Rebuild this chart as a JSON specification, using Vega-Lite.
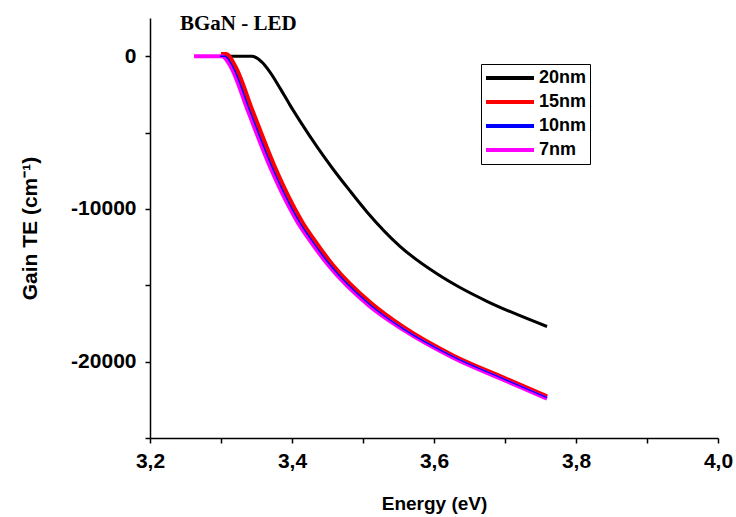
{
  "$schema": "https://vega.github.io/schema/vega-lite/v6.json",
  "width": 568,
  "height": 420,
  "autosize": "none",
  "padding": {"left": 150, "top": 18, "right": 18, "bottom": 79},
  "background": "white",
  "title": {
    "text": "BGaN - LED",
    "anchor": "start",
    "frame": "group",
    "offset": 0,
    "dx": 30,
    "dy": 33,
    "baseline": "alphabetic",
    "font": "Liberation Serif",
    "fontSize": 21,
    "fontWeight": "bold",
    "color": "black"
  },
  "config": {
    "view": {"stroke": null},
    "axis": {
      "grid": false,
      "domainColor": "black",
      "domainWidth": 1.5,
      "tickColor": "black",
      "tickWidth": 1.5,
      "tickSize": 5,
      "labelFont": "Liberation Sans",
      "labelFontWeight": "bold",
      "labelFontSize": 21,
      "labelColor": "black",
      "titleFont": "Liberation Sans",
      "titleFontWeight": "bold",
      "titleColor": "black"
    },
    "legend": {
      "orient": "none",
      "legendX": 331,
      "legendY": 46,
      "strokeColor": "black",
      "padding": 3,
      "symbolType": "stroke",
      "symbolSize": 2304,
      "symbolStrokeWidth": 4,
      "clipHeight": 22,
      "rowPadding": 2,
      "labelFont": "Liberation Sans",
      "labelFontWeight": "bold",
      "labelFontSize": 18,
      "labelColor": "black",
      "labelOffset": 3
    }
  },
  "data": {
    "values": [
      {"E": 3.3014, "G": 0, "s": "20nm"},
      {"E": 3.3437, "G": 0, "s": "20nm"},
      {"E": 3.3577, "G": -392, "s": "20nm"},
      {"E": 3.369, "G": -1046, "s": "20nm"},
      {"E": 3.3831, "G": -2092, "s": "20nm"},
      {"E": 3.3972, "G": -3203, "s": "20nm"},
      {"E": 3.4113, "G": -4249, "s": "20nm"},
      {"E": 3.4366, "G": -6020, "s": "20nm"},
      {"E": 3.4577, "G": -7386, "s": "20nm"},
      {"E": 3.4817, "G": -8824, "s": "20nm"},
      {"E": 3.5056, "G": -10196, "s": "20nm"},
      {"E": 3.5521, "G": -12450, "s": "20nm"},
      {"E": 3.6042, "G": -14250, "s": "20nm"},
      {"E": 3.6366, "G": -15150, "s": "20nm"},
      {"E": 3.6746, "G": -16050, "s": "20nm"},
      {"E": 3.7592, "G": -17700, "s": "20nm"},

      {"E": 3.300, "G": 130, "s": "15nm"},
      {"E": 3.307, "G": 130, "s": "15nm"},
      {"E": 3.3204, "G": -719, "s": "15nm"},
      {"E": 3.3443, "G": -3595, "s": "15nm"},
      {"E": 3.3767, "G": -7386, "s": "15nm"},
      {"E": 3.4007, "G": -9738, "s": "15nm"},
      {"E": 3.4148, "G": -10915, "s": "15nm"},
      {"E": 3.4289, "G": -11895, "s": "15nm"},
      {"E": 3.4570, "G": -13660, "s": "15nm"},
      {"E": 3.5120, "G": -16210, "s": "15nm"},
      {"E": 3.5577, "G": -17778, "s": "15nm"},
      {"E": 3.6268, "G": -19608, "s": "15nm"},
      {"E": 3.6972, "G": -21046, "s": "15nm"},
      {"E": 3.7592, "G": -22288, "s": "15nm"},

      {"E": 3.262, "G": 0, "s": "7nm"},
      {"E": 3.3014, "G": 0, "s": "7nm"},
      {"E": 3.3141, "G": -719, "s": "7nm"},
      {"E": 3.3380, "G": -3595, "s": "7nm"},
      {"E": 3.3704, "G": -7386, "s": "7nm"},
      {"E": 3.3944, "G": -9738, "s": "7nm"},
      {"E": 3.4085, "G": -10915, "s": "7nm"},
      {"E": 3.4226, "G": -11895, "s": "7nm"},
      {"E": 3.4507, "G": -13660, "s": "7nm"},
      {"E": 3.5085, "G": -16340, "s": "7nm"},
      {"E": 3.5563, "G": -17908, "s": "7nm"},
      {"E": 3.6268, "G": -19740, "s": "7nm"},
      {"E": 3.6972, "G": -21176, "s": "7nm"},
      {"E": 3.7592, "G": -22418, "s": "7nm"},

      {"E": 3.2986, "G": 0, "s": "10nm"},
      {"E": 3.3056, "G": 0, "s": "10nm"},
      {"E": 3.3169, "G": -719, "s": "10nm"},
      {"E": 3.3408, "G": -3595, "s": "10nm"},
      {"E": 3.3732, "G": -7386, "s": "10nm"},
      {"E": 3.3972, "G": -9738, "s": "10nm"},
      {"E": 3.4113, "G": -10915, "s": "10nm"},
      {"E": 3.4254, "G": -11895, "s": "10nm"},
      {"E": 3.4535, "G": -13660, "s": "10nm"},
      {"E": 3.5099, "G": -16275, "s": "10nm"},
      {"E": 3.5563, "G": -17843, "s": "10nm"},
      {"E": 3.6268, "G": -19673, "s": "10nm"},
      {"E": 3.6972, "G": -21111, "s": "10nm"},
      {"E": 3.7592, "G": -22353, "s": "10nm"}
    ]
  },
  "encoding": {
    "x": {
      "field": "E",
      "type": "quantitative",
      "scale": {"domain": [3.2, 4.0], "nice": false, "zero": false},
      "axis": {
        "title": "Energy (eV)",
        "titleFontSize": 19,
        "titlePadding": 23,
        "labelPadding": 7,
        "values": [3.2, 3.3, 3.4, 3.5, 3.6, 3.7, 3.8, 3.9, 4.0],
        "labelExpr": "(round(datum.value * 10) % 2 == 0) ? replace(format(datum.value, '.1f'), '.', ',') : ''",
        "labelFlush": false,
        "labelOverlap": false
      }
    },
    "y": {
      "field": "G",
      "type": "quantitative",
      "scale": {"domain": [-25000, 2500], "nice": false, "zero": false},
      "axis": {
        "title": "Gain TE (cm⁻¹)",
        "titleFontSize": 21,
        "titlePadding": 30,
        "labelPadding": 9,
        "values": [-25000, -20000, -15000, -10000, -5000, 0],
        "labelExpr": "(datum.value % 10000 == 0) ? (datum.value < 0 ? '-' + abs(datum.value) : '' + datum.value) : ''",
        "labelOverlap": false
      }
    },
    "color": {
      "field": "s",
      "type": "nominal",
      "scale": {
        "domain": ["20nm", "15nm", "10nm", "7nm"],
        "range": ["#000000", "#ff0000", "#0000ff", "#ff00ff"]
      },
      "legend": {"title": null}
    }
  },
  "layer": [
    {
      "transform": [{"filter": "datum.s == '20nm'"}],
      "mark": {"type": "line", "interpolate": "monotone", "strokeWidth": 3}
    },
    {
      "transform": [{"filter": "datum.s == '15nm'"}],
      "mark": {"type": "line", "interpolate": "monotone", "strokeWidth": 4.5}
    },
    {
      "transform": [{"filter": "datum.s == '7nm'"}],
      "mark": {"type": "line", "interpolate": "monotone", "strokeWidth": 4}
    },
    {
      "transform": [{"filter": "datum.s == '10nm'"}],
      "mark": {"type": "line", "interpolate": "monotone", "strokeWidth": 1.5}
    }
  ]
}
